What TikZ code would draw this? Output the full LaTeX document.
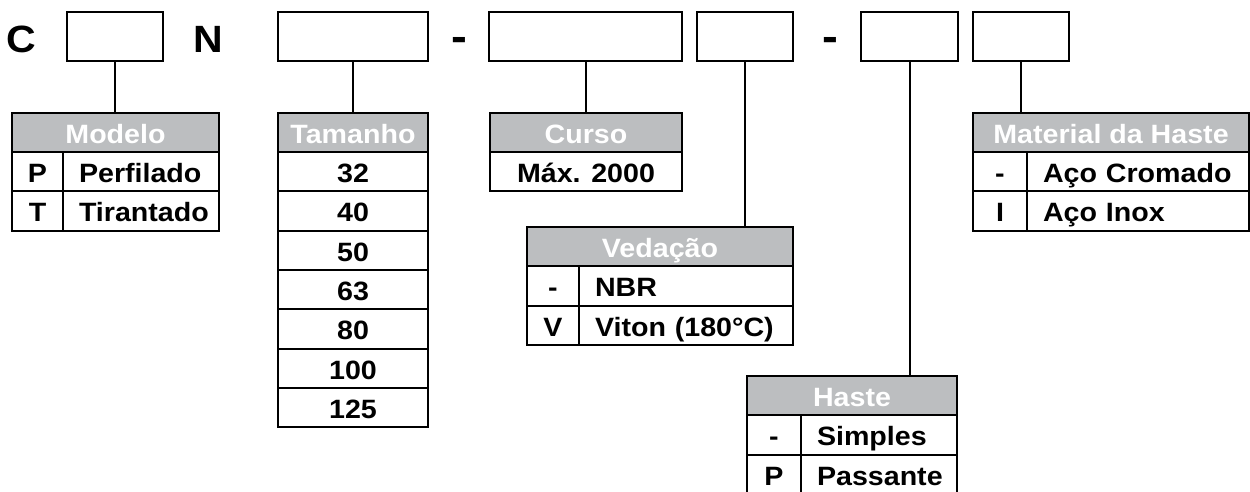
\documentclass[tikz,border=0pt]{standalone}
\usepackage{fontspec}
\setmainfont{Liberation Sans}[FakeStretch=1.08]
\definecolor{headgray}{HTML}{BCBEC0}

\tikzset{
  every node/.style={outer sep=0pt, line width=2pt},
  tabfont/.style={font=\bfseries\fontsize{26.5}{26.5}\selectfont, text height=22pt, text depth=0pt},
  codebox/.style={draw, minimum width=#1, minimum height=49pt, inner sep=0pt},
  bigletter/.style={anchor=base, inner sep=0pt, font=\bfseries\fontsize{38}{38}\selectfont},
  headcell/.style={draw, anchor=north west, fill=headgray, text=white, minimum width=#1,
    minimum height=39.3pt, inner sep=0pt, tabfont},
  keycell/.style={draw, anchor=north west, minimum width=#1, minimum height=39.3pt,
    inner sep=0pt, tabfont},
  valcell/.style={draw, anchor=north west, text width=#1, minimum height=39.3pt,
    inner sep=0pt, align=left, execute at begin node={\hspace*{16pt}}, tabfont},
  link/.style={line width=2pt}
}

\begin{document}
\begin{tikzpicture}[x=1pt, y=-1pt]
  \useasboundingbox (0,0) rectangle (1250,492);

  % code line
  \node[bigletter] (letc) at (21,52.5) {C};
  \node[codebox=96pt] (b1) at (115,36.5) {};
  \node[bigletter] (letn) at (208,52.5) {N};
  \node[codebox=150pt] (b2) at (353,36.5) {};
  \node[bigletter, font=\bfseries\fontsize{44}{44}\selectfont] (dash1) at (459.5,52) {-};
  \node[codebox=193pt] (b3) at (585.5,36.5) {};
  \node[codebox=96pt] (b4) at (745,36.5) {};
  \node[bigletter, font=\bfseries\fontsize{44}{44}\selectfont] (dash2) at (830,52) {-};
  \node[codebox=97pt] (b5) at (909.5,36.5) {};
  \node[codebox=96pt] (b6) at (1021,36.5) {};

  % Modelo
  \node[headcell=207pt] (modelo) at (12,113) {Modelo};
  \node[keycell=51pt] (modp) at (12,152) {P};
  \node[valcell=156pt] (modpv) at (63,152) {Perfilado};
  \node[keycell=51pt] (modt) at (12,191.3) {T};
  \node[valcell=156pt] (modtv) at (63,191.3) {Tirantado};

  % Tamanho
  \node[headcell=150pt] (tamanho) at (278,113) {Tamanho};
  \foreach \val [count=\i from 0] in {32,40,50,63,80,100,125}
    \node[keycell=150pt] (tam\i) at (278,152+39.3*\i) {\val};

  % Curso
  \node[headcell=192pt] (curso) at (490,113) {Curso};
  \node[keycell=192pt] (cursomax) at (490,152) {Máx. 2000};

  % Vedacao
  \node[headcell=266pt] (vedacao) at (527,227) {Vedação};
  \node[keycell=52pt] (vednbr) at (527,266.3) {-};
  \node[valcell=214pt] (vednbrv) at (579,266.3) {NBR};
  \node[keycell=52pt] (vedvit) at (527,305.6) {V};
  \node[valcell=214pt] (vedvitv) at (579,305.6) {Viton (180°C)};

  % Haste
  \node[headcell=210pt] (haste) at (747,376) {Haste};
  \node[keycell=54pt] (hassim) at (747,415.3) {-};
  \node[valcell=156pt] (hassimv) at (801,415.3) {Simples};
  \node[keycell=54pt] (haspas) at (747,454.6) {P};
  \node[valcell=156pt] (haspasv) at (801,454.6) {Passante};

  % Material da Haste
  \node[headcell=276pt] (material) at (973,113) {Material da Haste};
  \node[keycell=54pt] (matcro) at (973,152) {-};
  \node[valcell=222pt] (matcrov) at (1027,152) {Aço Cromado};
  \node[keycell=54pt] (matinx) at (973,191.3) {I};
  \node[valcell=222pt] (matinxv) at (1027,191.3) {Aço Inox};

  % links
  \draw[link] (b1.south) -- (b1.south |- modelo.north);
  \draw[link] (b2.south) -- (b2.south |- tamanho.north);
  \draw[link] (b3.south) -- (b3.south |- curso.north);
  \draw[link] (b4.south) -- (b4.south |- vedacao.north);
  \draw[link] (b5.south) -- (b5.south |- haste.north);
  \draw[link] (b6.south) -- (b6.south |- material.north);
\end{tikzpicture}
\end{document}
